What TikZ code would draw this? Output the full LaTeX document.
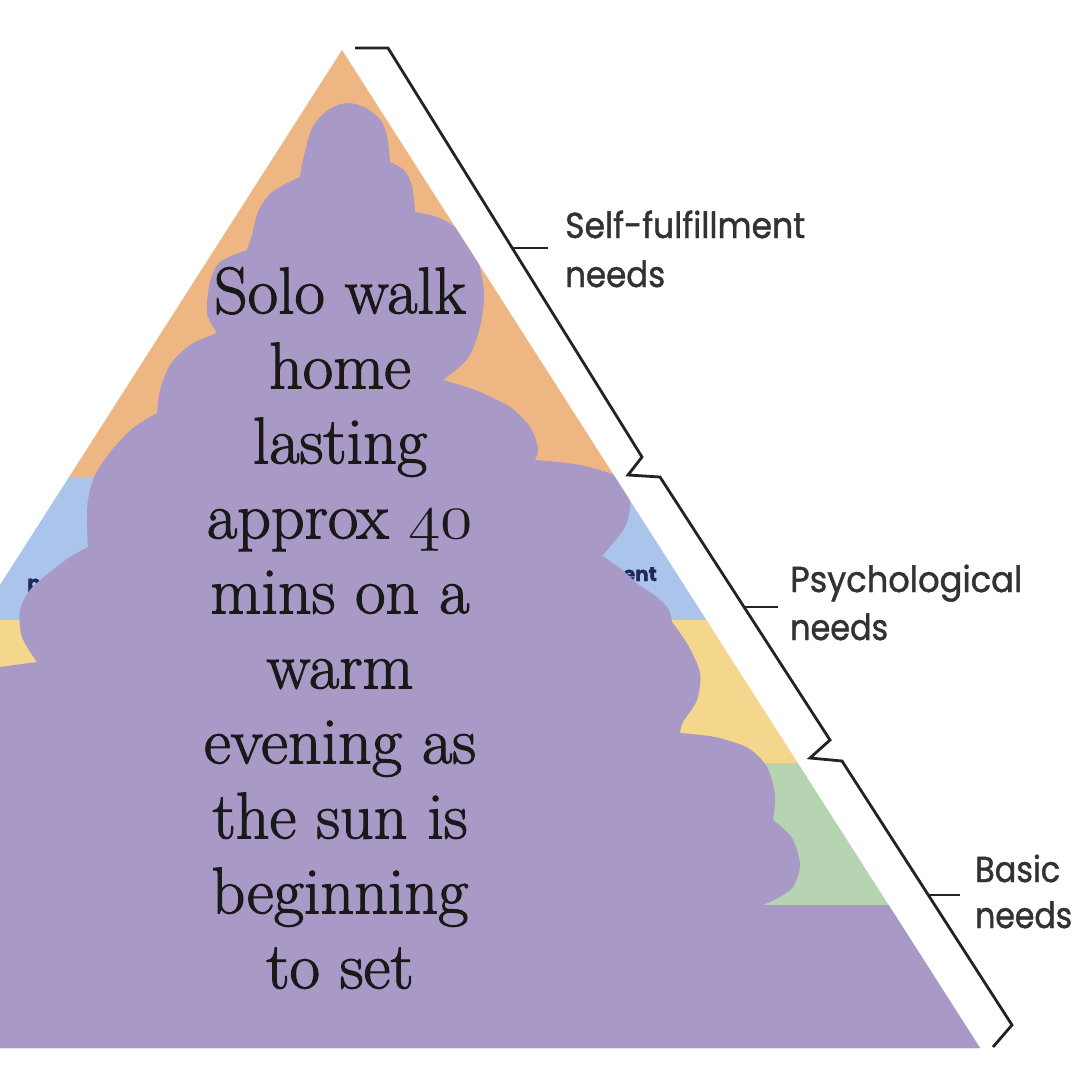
\RequirePackage{fix-cm}
\documentclass[tikz,border=0pt]{standalone}
\usepackage{fontspec}
\usepackage{graphicx}
\newfontfamily\labelfont{Poppins}[RawFeature={embolden=1.2}]
\newfontfamily\storyfont{Latin Modern Roman}[RawFeature={embolden=1.6}]
\definecolor{orangeL}{RGB}{238,182,130}
\definecolor{blueL}{RGB}{170,196,236}
\definecolor{yellowL}{RGB}{244,214,140}
\definecolor{greenL}{RGB}{182,212,178}
\definecolor{purpleL}{RGB}{169,153,198}
\definecolor{inkL}{RGB}{35,35,35}
\definecolor{labelL}{RGB}{50,50,50}
\definecolor{navyL}{RGB}{30,40,90}
\newcommand\osnum[1]{{\fontencoding{OML}\fontfamily{cmm}\fontseries{m}\fontshape{it}\fontsize{66}{75}\selectfont #1}}
\tikzset{
  bracket/.style={draw=inkL, line width=2.8pt, line join=miter},
  lbl/.style={anchor=base west, inner sep=0pt, text=labelL, font=\labelfont\fontsize{36}{49}\selectfont},
  frag/.style={inner sep=0pt, text=navyL, font=\labelfont\bfseries\fontsize{20}{24}\selectfont},
  maintext/.style={anchor=north, inner sep=0pt, align=center, text=black!90, font=\storyfont\fontsize{66}{75}\selectfont}
}
\begin{document}
\begin{tikzpicture}[x=1pt,y=-1pt]
\useasboundingbox (0,0) rectangle (1080,1080);
\fill[white] (0,0) rectangle (1080,1080);
\coordinate (apex) at (342,50);
\coordinate (bl) at (-296,1048);
\coordinate (br) at (980,1048);
\begin{scope}
  \clip (apex) -- (br) -- (bl) -- cycle;
  \fill[orangeL] (-300,0) rectangle (1000,478);
  \fill[blueL] (-300,478) rectangle (1000,620);
  \fill[yellowL] (-300,620) rectangle (1000,763);
  \fill[greenL] (-300,763) rectangle (1000,907);
  \fill[purpleL] (-300,907) rectangle (1000,1060);
  \node[frag, anchor=base east] (fragR) at (657,581) {accomplishment};
  \node[frag, anchor=base west] (fragL) at (27,590) {prestige};
  \fill[purpleL]
    plot[smooth] coordinates {(300,177) (303,160) (312,128) (328,110) (347,103) (366,108) (382,122) (388,142) (390,162)}
    -- plot[smooth] coordinates {(390,162) (404,170) (412,186) (415,212)}
    -- plot[smooth] coordinates {(415,212) (440,218) (462,233) (477,257) (484,293) (480,327) (468,358) (443,380)}
    -- plot[smooth] coordinates {(443,380) (475,390) (510,407) (530,427) (538,448) (535,460)}
    -- plot[smooth] coordinates {(535,460) (580,465) (620,478) (630,500) (625,527) (602,556)}
    -- plot[smooth] coordinates {(602,556) (620,568) (638,584) (658,598) (669,610) (672,622)}
    -- plot[smooth] coordinates {(672,622) (688,645) (700,673) (697,700) (683,722) (680,733)}
    -- plot[smooth] coordinates {(680,733) (715,737) (748,748) (767,767) (775,795) (773,820)}
    -- plot[smooth] coordinates {(773,820) (792,838) (800,865) (793,887) (778,898) (763,905)}
    -- (900,905) -- (1000,1060) -- (-120,1060) -- (-120,700)
    -- plot[smooth] coordinates {(-120,700) (-60,676) (0,667) (37,662)}
    -- plot[smooth] coordinates {(37,662) (22,637) (20,610) (30,590) (50,572) (70,557) (88,547)}
    -- plot[smooth] coordinates {(88,547) (87,525) (88,500) (95,475) (112,450) (133,428) (157,413)}
    -- plot[smooth] coordinates {(157,413) (160,390) (170,365) (190,345) (217,333)}
    -- plot[smooth] coordinates {(217,333) (207,313) (210,282) (220,262) (247,250)}
    -- plot[smooth] coordinates {(247,250) (252,235) (258,212) (272,192) (300,177)}
    -- cycle;
\end{scope}
% main text
\node[maintext] (story) at (340,267) {Solo walk\\home\\lasting\\approx \osnum{40}\\mins on a\\warm\\evening as\\the sun is\\beginning\\to set};
% brackets
\coordinate (b0) at (355,48);
\coordinate (b1) at (388,48);
\coordinate (b2) at (642,457);
\coordinate (b3) at (628,475);
\coordinate (b4) at (660,477);
\coordinate (b5) at (830,740);
\coordinate (b6) at (810,758);
\coordinate (b7) at (842,761);
\coordinate (b8) at (1012,1025);
\coordinate (b9) at (993,1047);
\draw[bracket] (b0) -- (b1) -- (b2) -- (b3) -- (b4) -- (b5) -- (b6) -- (b7) -- (b8) -- (b9);
% labels
\node[lbl] (self1) at (565,238) {\resizebox{240pt}{\height}{Self-fulfillment}};
\node[lbl] (self2) at (565,287) {\resizebox{100pt}{\height}{needs}};
\node[lbl] (psy1) at (790,592) {\resizebox{232pt}{\height}{Psychological}};
\node[lbl] (psy2) at (790,640) {\resizebox{98pt}{\height}{needs}};
\node[lbl] (bas1) at (975,882) {\resizebox{85pt}{\height}{Basic}};
\node[lbl] (bas2) at (975,928) {\resizebox{97pt}{\height}{needs}};
\coordinate (t1) at (513,248);
\coordinate (t2) at (745,607);
\coordinate (t3) at (928,895);
\draw[bracket] (t1) -- ++(35,0) coordinate (t1e);
\draw[bracket] (t2) -- ++(33,0) coordinate (t2e);
\draw[bracket] (t3) -- ++(32,0) coordinate (t3e);
\end{tikzpicture}
\end{document}
